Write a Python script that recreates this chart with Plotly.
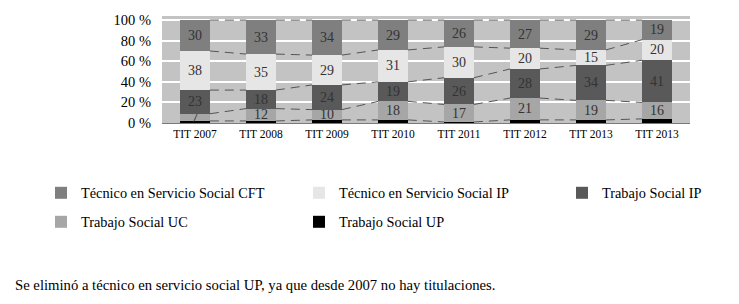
import plotly.graph_objects as go

categories = ["TIT 2007", "TIT 2008", "TIT 2009", "TIT 2010", "TIT 2011", "TIT 2012", "TIT 2013", "TIT 2013"]
trabajo_up = [2, 2, 3, 3, 1, 3, 3, 4]
trabajo_uc = [7, 12, 10, 18, 17, 21, 19, 16]
trabajo_ip = [23, 18, 24, 19, 26, 28, 34, 41]
tecnico_ip = [38, 35, 29, 31, 30, 20, 15, 20]
tecnico_cft = [30, 33, 34, 29, 26, 27, 29, 19]
y_ticks = [0, 20, 40, 60, 80, 100]
y_tick_labels = ["0 %", "20 %", "40 %", "60 %", "80 %", "100 %"]

series = [
    ("Trabajo Social UP", trabajo_up, "#000000", False),
    ("Trabajo Social UC", trabajo_uc, "#a6a6a6", True),
    ("Trabajo Social IP", trabajo_ip, "#595959", True),
    ("Técnico en Servicio Social IP", tecnico_ip, "#e6e6e6", True),
    ("Técnico en Servicio Social CFT", tecnico_cft, "#7f7f7f", True),
]
legend_ids = {
    "Técnico en Servicio Social CFT": "legend",
    "Técnico en Servicio Social IP": "legend2",
    "Trabajo Social IP": "legend3",
    "Trabajo Social UC": "legend4",
    "Trabajo Social UP": "legend5",
}

SERIF = "Liberation Serif"
BAR_W = 0.45
OFF = 8  # page body margin
W, H = 739 - OFF, 304 - OFF
PL, PR, PT, PB = 162 - OFF, 690 - OFF, 16 - OFF, 123 - OFF  # plot area in pixels
xs = list(range(len(categories)))
totals = [sum(s[1][i] for s in series) for i in xs]

fig = go.Figure()

# dashed series lines between bars (from normalized cumulative tops)
cum = [0.0] * len(xs)
for name, vals, color, lab in series:
    cum = [cum[i] + vals[i] * 100.0 / totals[i] for i in xs]
    lx, ly = [], []
    for i in range(len(xs) - 1):
        lx += [xs[i] + BAR_W / 2, xs[i + 1] - BAR_W / 2, None]
        ly += [cum[i], cum[i + 1], None]
    fig.add_trace(go.Scatter(x=lx, y=ly, mode="lines", showlegend=False, hoverinfo="skip",
                             line=dict(color="#555555", width=1, dash="9px,6px")))

for name, vals, color, lab in series:
    fig.add_trace(go.Bar(
        x=xs, y=vals, name=name, marker=dict(color=color, line=dict(width=0)),
        width=BAR_W,
        text=[str(v) for v in vals] if lab else None,
        texttemplate="%{text}" if lab else None,
        textposition="inside" if lab else "none",
        insidetextanchor="middle",
        textangle=0,
        textfont=dict(family=SERIF, size=14, color="#333333"),
        legend=legend_ids[name],
    ))

fig.update_layout(
    width=W, height=H,
    barmode="stack", barnorm="percent",
    margin=dict(l=0, r=0, t=0, b=0, pad=0, autoexpand=False),
    paper_bgcolor="white", plot_bgcolor="#c3c3c3",
    uniformtext=dict(minsize=14, mode="show"),
    font=dict(family=SERIF, color="#000000"),
    xaxis=dict(domain=[PL / W, PR / W], range=[-0.5, len(xs) - 0.5], tickvals=xs, ticktext=categories,
               showgrid=False, zeroline=False, showline=True, linecolor="#7a7a7a", linewidth=1,
               ticks="", automargin=False, tickfont=dict(family=SERIF, size=11.5, color="#000")),
    yaxis=dict(domain=[1 - PB / H, 1 - PT / H], range=[0, 104], tickvals=y_ticks, ticktext=y_tick_labels,
               showgrid=True, gridcolor="#ffffff", gridwidth=1.5, zeroline=False,
               ticks="", automargin=False, ticklabelstandoff=10,
               tickfont=dict(family=SERIF, size=14.5, color="#000")),
    showlegend=True,
)

def cx(p):
    return (p - OFF) / W

def cy(p):
    return 1 - (p - OFF) / H

leg_common = dict(font=dict(family=SERIF, size=14.3, color="#000"), bgcolor="rgba(0,0,0,0)",
                  xanchor="left", yanchor="middle", orientation="v")
fig.update_layout(
    legend=dict(x=cx(41), y=cy(193), **leg_common),
    legend2=dict(x=cx(299), y=cy(193), **leg_common),
    legend3=dict(x=cx(562), y=cy(193), **leg_common),
    legend4=dict(x=cx(41), y=cy(222), **leg_common),
    legend5=dict(x=cx(299), y=cy(222), **leg_common),
)

fig.add_annotation(text="Se eliminó a técnico en servicio social UP, ya que desde 2007 no hay titulaciones.",
                   xref="paper", yref="paper", x=cx(13), y=cy(285),
                   xanchor="left", yanchor="middle",
                   showarrow=False, font=dict(family=SERIF, size=14.7, color="#000"))

fig.write_html("out.html")
